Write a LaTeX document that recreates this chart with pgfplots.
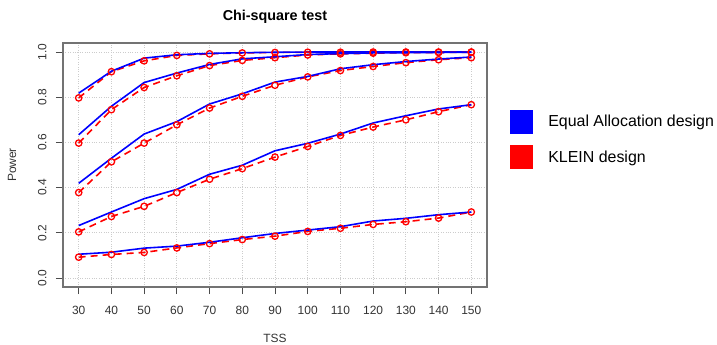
\documentclass[border=0pt]{standalone}
\usepackage{fontspec}
\setmainfont{Liberation Sans}
\usepackage{pgfplots}
\usepackage{pgfplotstable}
\pgfplotsset{compat=1.18}
\definecolor{Rblue}{RGB}{0,0,255}
\definecolor{Rred}{RGB}{255,0,0}
\pgfplotstableread{
x   b1    r1    b2    r2    b3    r3    b4    r4    b5    r5
30  0.818 0.797 0.634 0.597 0.419 0.378 0.232 0.204 0.105 0.092
40  0.915 0.913 0.760 0.745 0.530 0.514 0.292 0.272 0.114 0.104
50  0.973 0.961 0.865 0.843 0.637 0.597 0.351 0.317 0.132 0.113
60  0.988 0.985 0.907 0.895 0.692 0.678 0.392 0.378 0.141 0.133
70  0.994 0.992 0.945 0.940 0.770 0.752 0.459 0.437 0.158 0.152
80  0.997 0.996 0.970 0.963 0.815 0.804 0.499 0.484 0.178 0.170
90  0.999 0.998 0.979 0.975 0.867 0.853 0.563 0.535 0.197 0.185
100 1.000 0.999 0.989 0.987 0.892 0.890 0.596 0.582 0.212 0.206
110 1.000 0.999 0.993 0.992 0.926 0.918 0.637 0.631 0.227 0.220
120 1.000 1.000 0.996 0.995 0.944 0.936 0.686 0.668 0.252 0.237
130 1.000 1.000 0.997 0.997 0.958 0.953 0.718 0.700 0.264 0.249
140 1.000 1.000 0.998 0.998 0.969 0.966 0.748 0.736 0.280 0.265
150 1.000 1.000 0.999 0.999 0.978 0.975 0.767 0.767 0.292 0.292
}\data
\begin{document}
\begin{tikzpicture}
\path[use as bounding box] (-63bp,-58bp) rectangle (654bp,287bp);
\begin{axis}[
  at={(0,0)}, anchor=south west,
  scale only axis, width=424bp, height=244bp,
  xmin=25.2, xmax=154.8, ymin=-0.04, ymax=1.04,
  xtick={30,40,...,150},
  ytick={0,0.2,0.4,0.6,0.8,1.0},
  tick pos=left, tick align=outside,
  major tick length=7bp,
  every tick/.style={black!70, line width=0.8bp},
  axis line style={draw=black!55, line width=1.2bp},
  grid=major,
  major grid style={draw=black!20, dotted, line width=0.8bp},
  /pgf/number format/assume math mode=true,
  ticklabel style={font=\fontsize{12}{14}\selectfont, text=black!80},
  yticklabel style={rotate=90, anchor=south, yshift=6bp, /pgf/number format/.cd, fixed, fixed zerofill, precision=1},
  xticklabel style={yshift=-9bp, /pgf/number format/.cd, fixed, precision=0},
  title={Chi-square test},
  title style={font=\bfseries\fontsize{14.4}{16}\selectfont, at={(0.5,1)}, anchor=south, yshift=10bp},
  xlabel={TSS},
  ylabel={Power},
  label style={font=\fontsize{12}{14}\selectfont, text=black!80},
  xlabel style={at={(axis description cs:0.5,0)}, anchor=center, yshift=-51bp},
  ylabel style={at={(axis description cs:0,0.5)}, anchor=center, yshift=51bp},
  legend style={at={(1.054,0.725)}, anchor=north west, draw=none, fill=none,
    inner sep=0pt, outer sep=0pt, font=\fontsize{16}{19}\selectfont, row sep=12bp,
    /tikz/every odd column/.append style={column sep=14bp}},
  legend cell align=left,
]
\addlegendimage{legend image code/.code={\fill[Rblue] (0bp,-11.5bp) rectangle (22bp,11.5bp);}}
\addlegendentry{Equal Allocation design}
\addlegendimage{legend image code/.code={\fill[Rred] (0bp,-11.5bp) rectangle (22bp,11.5bp);}}
\addlegendentry{KLEIN design}
\pgfplotsset{
  redstyle/.style={Rred, line width=1.6bp, dash pattern=on 7bp off 5bp, mark=o, mark size=3.2bp, mark options={solid, line width=1.3bp}},
  bluestyle/.style={Rblue, line width=1.6bp, solid, no markers}
}
\foreach \k in {1,...,5}{
  \addplot[redstyle, forget plot] table[x=x, y=r\k] {\data};
  \addplot[bluestyle, forget plot] table[x=x, y=b\k] {\data};
}
\end{axis}
\end{tikzpicture}
\end{document}
